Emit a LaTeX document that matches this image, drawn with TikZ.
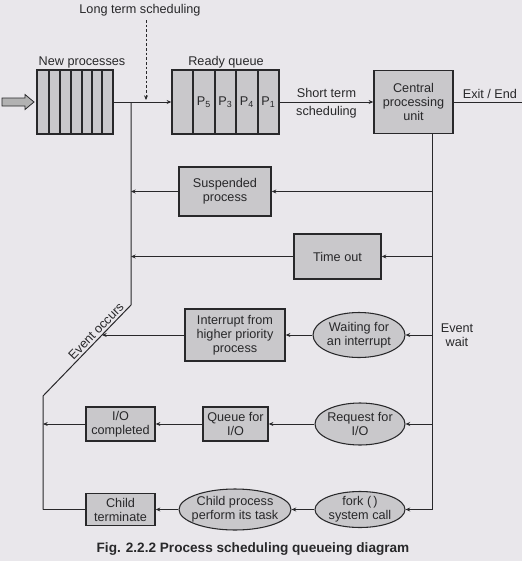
\documentclass[tikz,border=0pt]{standalone}
\usepackage{fontspec}
\setmainfont{Liberation Sans}
\usetikzlibrary{arrows.meta,shapes.geometric}
\definecolor{pagebg}{RGB}{233,231,235}
\definecolor{boxgray}{RGB}{201,200,203}
\definecolor{inkgray}{RGB}{40,40,42}
\tikzset{
  lbl/.style={text=inkgray, align=center, inner sep=0pt, font=\fontsize{9.5}{10.5}\selectfont},
  procbox/.style={lbl, draw=inkgray, line width=1.1pt, fill=boxgray},
  procoval/.style={procbox, ellipse, line width=0.8pt, inner xsep=-3pt, inner ysep=-1pt},
  trunk/.style={draw=inkgray, line width=0.75pt},
  flow/.style={trunk, -{Stealth[length=3.5pt,width=3pt]}},
}

\begin{document}
\begin{tikzpicture}[x=0.75pt,y=-0.75pt]
		%%%%% START %%%%%
		
		\fill[pagebg] (0,0) rectangle (522,561);
		\useasboundingbox (0,0) rectangle (522,561);
		
		% top row: queues and cpu
		\node[lbl] (ltlabel) at (140,10) {Long term scheduling};
		\node[lbl] (newlbl) at (82,62) {New processes};
		\node[lbl] (readylbl) at (226,62) {Ready queue};
		
		\draw[fill=black!30, draw=inkgray, line width=0.6pt] (2,98) -- (25,98) -- (25,94.5) -- (34,102) -- (25,109.5) -- (25,106) -- (2,106) -- cycle;
		
		\node[procbox, minimum width=57pt, minimum height=48pt] (newq) at (75.2,102) {};
		\foreach \x in {49,60,71,82,92,102}
			\draw[inkgray, line width=1pt] (\x,70) -- (\x,134);
		
		\node[procbox, minimum width=80.25pt, minimum height=48pt] (readyq) at (225.5,102) {};
		\foreach \x in {193,215,236,258}
			\draw[inkgray, line width=1pt] (\x,70) -- (\x,134);
		\node[lbl] (p5) at (204,102) {P\textsubscript{5}};
		\node[lbl] (p3) at (225.5,102) {P\textsubscript{3}};
		\node[lbl] (p4) at (247,102) {P\textsubscript{4}};
		\node[lbl] (p1) at (268.5,102) {P\textsubscript{1}};
		
		\node[procbox, minimum width=59.25pt, minimum height=47.25pt] (cpu) at (413.5,102) {Central\\processing\\unit};
		
		\coordinate (ltjoin) at (131,102);
		\coordinate (ltstart) at (146,20);
		\coordinate (ltend) at (146,100);
		\coordinate (cpuout) at (432,133);
		\coordinate (exitend) at (522,102);
		
		\draw[flow] (newq.east) -- (readyq.west);
		\draw[flow, dash pattern=on 2pt off 1.5pt] (ltstart) -- (ltend);
		\draw[flow] (readyq.east) -- node[lbl, above=3pt] (stlbl) {Short term} node[lbl, below=3pt] (schlbl) {scheduling} (cpu.west);
		\draw[trunk] (cpu.east) -- node[lbl, above=2pt, pos=0.53] (exitlbl) {Exit / End} (exitend);
		
		% waiting states between the trunks
		\node[procbox, minimum width=69pt, minimum height=36.75pt] (susp) at (225,191.5) {Suspended\\process};
		\node[procbox, minimum width=65.25pt, minimum height=33.75pt] (tout) at (337.5,256.5) {Time out};
		\node[procbox, minimum width=75pt, minimum height=39pt] (intr) at (235,335) {Interrupt from\\higher priority\\process};
		\node[procoval, minimum width=69pt, minimum height=33.75pt] (waitint) at (359,335) {Waiting for\\an interrupt};
		\node[lbl] (evwait) at (457,335) {Event\\wait};
		
		\node[procbox, minimum width=51.75pt, minimum height=25.5pt] (iocomp) at (120.5,424) {I/O\\completed};
		\node[procbox, minimum width=48.75pt, minimum height=25.5pt] (qio) at (235.5,424) {Queue for\\I/O};
		\node[procoval, minimum width=67.5pt, minimum height=31.5pt] (reqio) at (360,424) {Request for\\I/O};
		
		\node[procbox, minimum width=51.75pt, minimum height=24pt] (chterm) at (120.5,509.5) {Child\\terminate};
		\node[procoval, minimum width=84pt, minimum height=30.75pt] (childp) at (235,509.5) {Child process\\perform its task};
		\node[procoval, minimum width=67.5pt, minimum height=27pt] (fork) at (360,509.5) {fork (\,)\\system call};
		
		% left trunk back to the ready queue
		\coordinate (bend1) at (131,305);
		\coordinate (bend2) at (43,396);
		\coordinate (evtpt) at (102,335);
		\draw[trunk] (bend2 |- chterm.west) -- (bend2) -- node[lbl, sloped, above=1.5pt, pos=0.66] (evocc) {Event occurs} (bend1) -- (ltjoin);
		
		\draw[flow] (cpuout |- susp.east) -- (susp.east);
		\draw[flow] (susp.west) -- (ltjoin |- susp.west);
		\draw[flow] (cpuout |- tout.east) -- (tout.east);
		\draw[flow] (tout.west) -- (ltjoin |- tout.west);
		\draw[flow] (cpuout |- waitint.east) -- (waitint.east);
		\draw[flow] (waitint.west) -- (intr.east);
		\draw[flow] (intr.west) -- (evtpt);
		\draw[flow] (cpuout |- reqio.east) -- (reqio.east);
		\draw[flow] (reqio.west) -- (qio.east);
		\draw[flow] (qio.west) -- (iocomp.east);
		\draw[flow] (iocomp.west) -- (bend2 |- iocomp.west);
		\draw[flow] (cpuout) |- (fork.east);
		\draw[flow] (fork.west) -- (childp.east);
		\draw[flow] (childp.west) -- (chterm.east);
		\draw[trunk] (chterm.west) -- (bend2 |- chterm.west);
		
		\node[lbl, font=\bfseries\fontsize{10.2}{12}\selectfont] (caption) at (253,549) {Fig. 2.2.2 Process scheduling queueing diagram};
		
		%%%%% END %%%%%
	\end{tikzpicture}
\end{document}
